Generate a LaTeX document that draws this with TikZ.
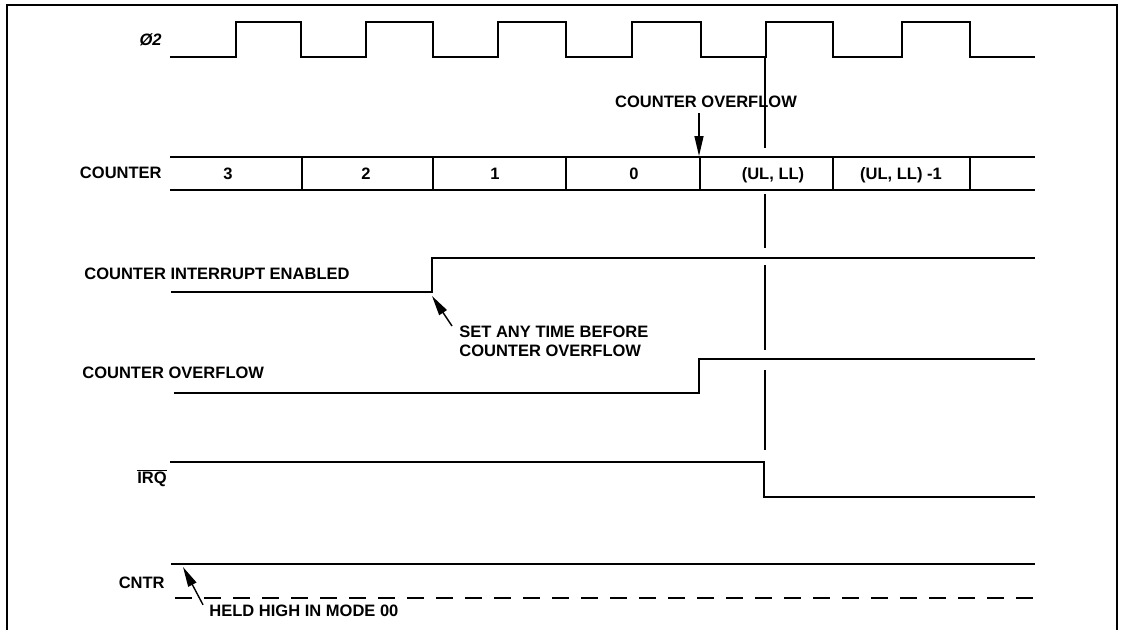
\documentclass[tikz,border=0pt]{standalone}
\usepackage{fontspec}
\setmainfont{Liberation Sans}
\usetikzlibrary{arrows.meta}

\begin{document}
\begin{tikzpicture}[x=0.2mm, y=-0.2mm,
    sig/.style={line width=1.3pt},
    guide/.style={line width=0.6pt},
    lbl/.style={font=\fontsize{9.4}{10.8}\selectfont\bfseries, inner sep=0pt, text height=6.7pt, text depth=0pt},
    note/.style={font=\fontsize{9.4}{10.8}\selectfont\bfseries, inner sep=0pt, align=left},
    ptr/.style={line width=0.8pt, -{Triangle[length=4mm,width=1.8mm]}}]
    \useasboundingbox (0,0) rectangle (1123,630);

    % Rahmen
    \draw[line width=1pt] (7,630) -- (7,5) -- (1117,5) -- (1117,630);

    % Takt phi2
    \node[lbl, anchor=east] (phi) at (162,40) {\itshape\O2};
    \draw[sig] (170,57) \foreach \r/\f in {236/301, 366/433, 498/566, 632/701, 766/833, 902/970} {
        -- (\r,57) -- (\r,22) -- (\f,22) -- (\f,57)} -- (1035,57);

    % Zaehler
    \node[lbl, anchor=east] (cntlbl) at (162,173) {COUNTER};
    \draw[sig] (170,157) -- (1035,157) (170,190) -- (1035,190);
    \foreach \x in {302,433,566,700,833,970}
        \draw[sig] (\x,157) -- (\x,190);
    \foreach \x/\t/\n in {228/3/c3, 366/2/c2, 495/1/c1, 634/0/c0, 773/{(UL, LL)}/cul, 901/{(UL, LL) -1}/culm}
        \node[lbl] (\n) at (\x,174) {\t};

    \node[lbl] (ovfnote) at (706,102) {COUNTER OVERFLOW};
    \coordinate (ovftip) at (699,156);
    \draw[ptr, shorten <=1mm] (ovfnote.south -| ovftip) -- (ovftip);

    % Hilfslinie
    \draw[guide] (765,57) -- (765,148) (765,194) -- (765,248)
        (765,265) -- (765,350) (765,370) -- (765,450);

    % Interrupt freigegeben
    \node[lbl, anchor=west] (cielbl) at (84,274) {COUNTER INTERRUPT ENABLED};
    \draw[sig] (171,292) -- (432,292) -- (432,258) -- (1035,258);
    \coordinate (cietip) at (432,296);
    \node[note, anchor=north west] (setnote) at (459,326) {SET ANY TIME BEFORE\\COUNTER OVERFLOW};
    \draw[ptr] ([xshift=-1.4mm]setnote.north west) -- (cietip);

    % Ueberlauf
    \node[lbl, anchor=west] (ovflbl) at (82,373) {COUNTER OVERFLOW};
    \draw[sig] (174,393) -- (699,393) -- (699,359) -- (1035,359);

    % IRQ
    \node[lbl, anchor=east] (irqlbl) at (167,478) {$\overline{\mbox{IRQ}}$};
    \draw[sig] (170,462) -- (764,462) -- (764,497) -- (1035,497);

    % CNTR
    \node[lbl, anchor=east] (cntrlbl) at (165,583) {CNTR};
    \draw[sig] (171,564) -- (1035,564);
    \draw[sig, line width=0.9pt, dash pattern=on 3.4mm off 2.4mm] (175,598) -- (1035,598);
    \coordinate (cntrtip) at (183,567);
    \node[lbl, anchor=west] (heldnote) at (209,611) {HELD HIGH IN MODE 00};
    \draw[ptr] ([xshift=-1.2mm]heldnote.north west) -- (cntrtip);
\end{tikzpicture}
\end{document}
